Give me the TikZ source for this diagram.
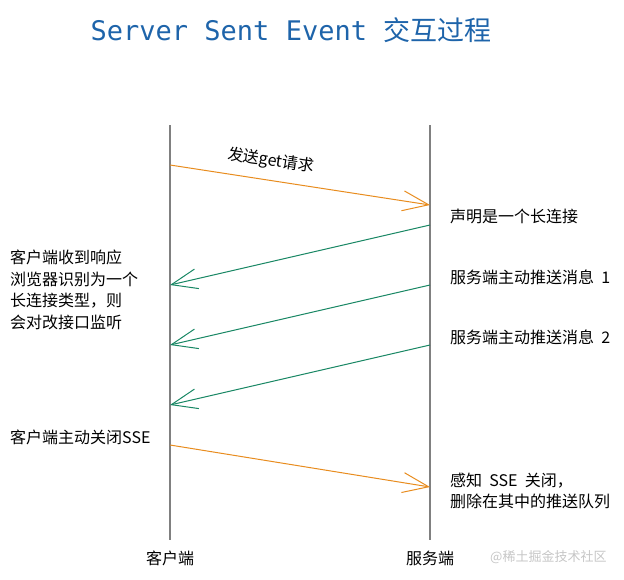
\documentclass[tikz,border=0pt]{standalone}
\usepackage{fontspec}
\setmainfont{Noto Sans CJK SC}
\newfontfamily\titlemono{DejaVu Sans Mono}
\usetikzlibrary{arrows.meta,positioning}
\definecolor{sseOrange}{RGB}{232,140,30}
\definecolor{sseGreen}{RGB}{25,135,100}
\definecolor{sseBlue}{RGB}{30,100,170}
\definecolor{lifeGray}{RGB}{128,128,128}
\tikzset{
  lifeline/.style={draw=lifeGray, line width=1.6pt},
  msg/.style={line width=1pt, -{Straight Barb[length=26pt,width=20pt]}},
  note/.style={anchor=west, inner sep=0pt, font=\fontsize{16}{21.6}\selectfont, align=left},
  party/.style={inner sep=0pt, font=\fontsize{16}{18}\selectfont},
}

\begin{document}
\begin{tikzpicture}[x=1pt, y=-1pt]
  \useasboundingbox (0,0) rectangle (624,579);
  \node[sseBlue, inner sep=0pt, font=\fontsize{27}{30}\selectfont] (title) at (291,30)
    {{\titlemono Server Sent Event }交互过程};

  \node[party] (client) at (170,558) {客户端};
  \node[party] (server) at (430,558) {服务端};
  \coordinate (ctop) at (170,125);
  \coordinate (cbot) at (170,540);
  \coordinate (stop) at (430,125);
  \coordinate (sbot) at (430,540);
  \draw[lifeline] (ctop) -- (cbot);
  \draw[lifeline] (stop) -- (sbot);

  \coordinate (c1) at (170,165);  \coordinate (s1) at (430,205);
  \coordinate (s2) at (430,225);  \coordinate (c2) at (170,285);
  \coordinate (s3) at (430,285);  \coordinate (c3) at (170,345);
  \coordinate (s4) at (430,345);  \coordinate (c4) at (170,405);
  \coordinate (c5) at (170,445);  \coordinate (s5) at (430,487);

  \draw[msg, sseOrange] (c1) -- (s1);
  \draw[msg, sseGreen] (s2) -- (c2);
  \draw[msg, sseGreen] (s3) -- (c3);
  \draw[msg, sseGreen] (s4) -- (c4);
  \draw[msg, sseOrange] (c5) -- (s5);

  \node[party, rotate=-8.5] (get) at (271,161) {发送get请求};
  \node[note] (decl) at (450,216) {声明是一个长连接};
  \node[note] (push1) at (450,277) {服务端主动推送消息\ \ 1};
  \node[note] (push2) at (450,337) {服务端主动推送消息\ \ 2};
  \node[note] (recv) at (10,290) {客户端收到响应\\浏览器识别为一个\\长连接类型，则\\会对改接口监听};
  \node[note] (close) at (10,437) {客户端主动关闭SSE};
  \node[note] (sense) at (450,491) {感知\ \ SSE\ \ 关闭，\\删除在其中的推送队列};
  \node[anchor=west, inner sep=0pt, gray!45, font=\fontsize{13}{15}\selectfont] (mark) at (490,557) {@稀土掘金技术社区};
\end{tikzpicture}
\end{document}
